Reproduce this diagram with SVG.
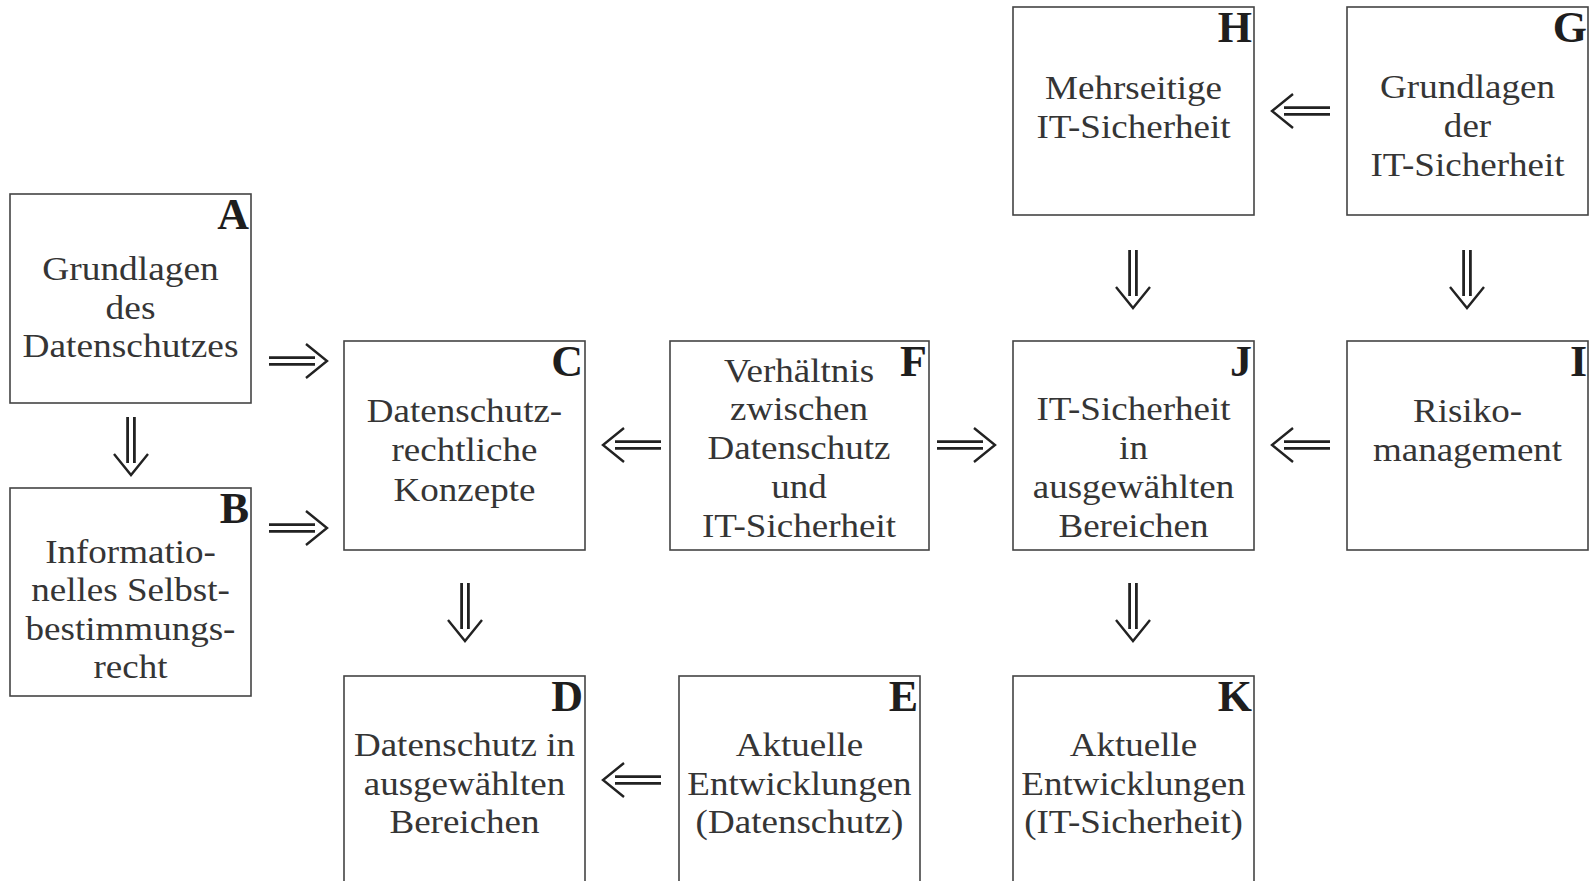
<svg xmlns="http://www.w3.org/2000/svg" xmlns:xlink="http://www.w3.org/1999/xlink" width="1593" height="881" viewBox="0 0 1593 881">
<style>
.box{fill:#fff;stroke:#444;stroke-width:1.6}
.t{font-family:"Liberation Serif","Times New Roman",serif;font-size:34px;fill:#353535;text-anchor:middle}
.l{font-family:"Liberation Serif","Times New Roman",serif;font-size:44px;font-weight:bold;fill:#1e1e1e;text-anchor:end}
.sh{stroke:#222;stroke-width:2.8;fill:none}
.hd{stroke:#222;stroke-width:2.4;fill:none;stroke-linejoin:miter}
</style>
<defs>
<g id="arr">
<line class="sh" x1="0" y1="-3.4" x2="46" y2="-3.4"/>
<line class="sh" x1="0" y1="3.4" x2="46" y2="3.4"/>
<polyline class="hd" points="37,-17 58,0 37,17"/>
</g>
</defs>
<rect width="1593" height="881" fill="#fff"/>

<g id="connectors">
<use xlink:href="#arr" transform="translate(269,361)"/>
<use xlink:href="#arr" transform="translate(269,528)"/>
<use xlink:href="#arr" transform="translate(661,445) rotate(180)"/>
<use xlink:href="#arr" transform="translate(937,445)"/>
<use xlink:href="#arr" transform="translate(1330,445) rotate(180)"/>
<use xlink:href="#arr" transform="translate(1330,111) rotate(180)"/>
<use xlink:href="#arr" transform="translate(661,780) rotate(180)"/>
<use xlink:href="#arr" transform="translate(131,417) rotate(90)"/>
<use xlink:href="#arr" transform="translate(465,583) rotate(90)"/>
<use xlink:href="#arr" transform="translate(1133,250) rotate(90)"/>
<use xlink:href="#arr" transform="translate(1467,250) rotate(90)"/>
<use xlink:href="#arr" transform="translate(1133,583) rotate(90)"/>
</g>

<g id="nodeA">
<rect class="box" x="10" y="194" width="241" height="209"/>
<text class="l" x="249" y="229">A</text>
<g transform="translate(130.5 0) scale(1.1 1)">
<text class="t" x="0" y="280">Grundlagen</text>
<text class="t" x="0" y="319">des</text>
<text class="t" x="0" y="357">Datenschutzes</text>
</g>
</g>

<g id="nodeB">
<rect class="box" x="10" y="488" width="241" height="208"/>
<text class="l" x="249" y="523">B</text>
<g transform="translate(130.5 0) scale(1.09 1)">
<text class="t" x="0" y="563">Informatio-</text>
<text class="t" x="0" y="601">nelles Selbst-</text>
<text class="t" x="0" y="640">bestimmungs-</text>
<text class="t" x="0" y="678">recht</text>
</g>
</g>

<g id="nodeC">
<rect class="box" x="344" y="341" width="241" height="209"/>
<text class="l" x="583" y="376">C</text>
<g transform="translate(464.5 0) scale(1.09 1)">
<text class="t" x="0" y="422">Datenschutz-</text>
<text class="t" x="0" y="461">rechtliche</text>
<text class="t" x="0" y="501">Konzepte</text>
</g>
</g>

<g id="nodeD">
<rect class="box" x="344" y="676" width="241" height="220"/>
<text class="l" x="583" y="711">D</text>
<g transform="translate(464.5 0) scale(1.09 1)">
<text class="t" x="0" y="756">Datenschutz in</text>
<text class="t" x="0" y="795">ausgewählten</text>
<text class="t" x="0" y="833">Bereichen</text>
</g>
</g>

<g id="nodeE">
<rect class="box" x="679" y="676" width="241" height="220"/>
<text class="l" x="918" y="711">E</text>
<g transform="translate(799.5 0) scale(1.09 1)">
<text class="t" x="0" y="756">Aktuelle</text>
<text class="t" x="0" y="795">Entwicklungen</text>
<text class="t" x="0" y="833">(Datenschutz)</text>
</g>
</g>

<g id="nodeF">
<rect class="box" x="670" y="341" width="259" height="209"/>
<text class="l" x="927" y="376">F</text>
<g transform="translate(799 0) scale(1.09 1)">
<text class="t" x="0" y="382">Verhältnis</text>
<text class="t" x="0" y="420">zwischen</text>
<text class="t" x="0" y="459">Datenschutz</text>
<text class="t" x="0" y="498">und</text>
<text class="t" x="0" y="537">IT-Sicherheit</text>
</g>
</g>

<g id="nodeH">
<rect class="box" x="1013" y="7" width="241" height="208"/>
<text class="l" x="1252" y="42">H</text>
<g transform="translate(1133.5 0) scale(1.09 1)">
<text class="t" x="0" y="99">Mehrseitige</text>
<text class="t" x="0" y="138">IT-Sicherheit</text>
</g>
</g>

<g id="nodeG">
<rect class="box" x="1347" y="7" width="241" height="208"/>
<text class="l" x="1587" y="42">G</text>
<g transform="translate(1467.5 0) scale(1.09 1)">
<text class="t" x="0" y="98">Grundlagen</text>
<text class="t" x="0" y="137">der</text>
<text class="t" x="0" y="176">IT-Sicherheit</text>
</g>
</g>

<g id="nodeJ">
<rect class="box" x="1013" y="341" width="241" height="209"/>
<text class="l" x="1252" y="376">J</text>
<g transform="translate(1133.5 0) scale(1.09 1)">
<text class="t" x="0" y="420">IT-Sicherheit</text>
<text class="t" x="0" y="459">in</text>
<text class="t" x="0" y="498">ausgewählten</text>
<text class="t" x="0" y="537">Bereichen</text>
</g>
</g>

<g id="nodeI">
<rect class="box" x="1347" y="341" width="241" height="209"/>
<text class="l" x="1587" y="376">I</text>
<g transform="translate(1467.5 0) scale(1.09 1)">
<text class="t" x="0" y="422">Risiko-</text>
<text class="t" x="0" y="461">management</text>
</g>
</g>

<g id="nodeK">
<rect class="box" x="1013" y="676" width="241" height="220"/>
<text class="l" x="1252" y="711">K</text>
<g transform="translate(1133.5 0) scale(1.09 1)">
<text class="t" x="0" y="756">Aktuelle</text>
<text class="t" x="0" y="795">Entwicklungen</text>
<text class="t" x="0" y="833">(IT-Sicherheit)</text>
</g>
</g>
</svg>
